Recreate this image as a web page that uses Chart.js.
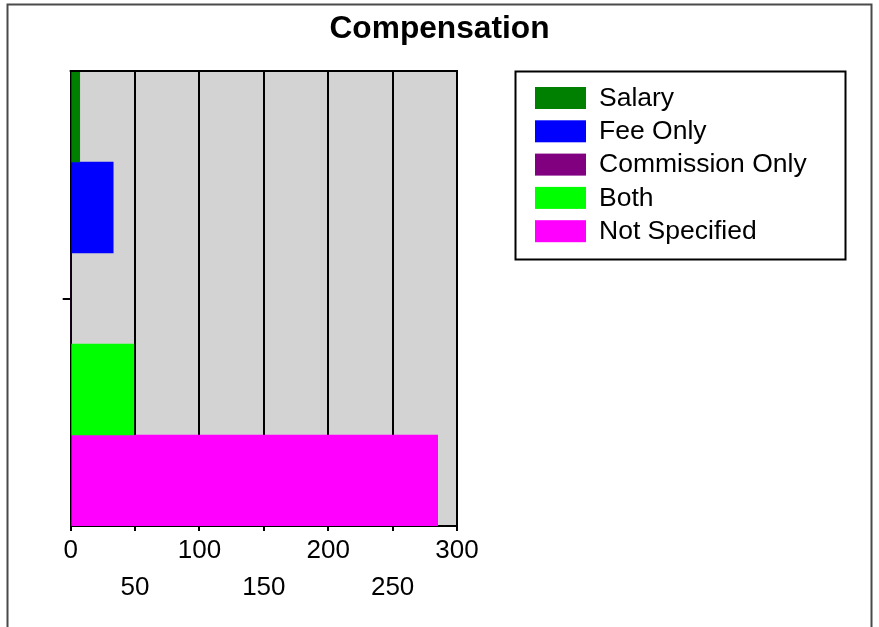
<!DOCTYPE html>
<html>
<head>
<meta charset="utf-8">
<script src="https://cdn.jsdelivr.net/npm/chart.js@4"></script>
<style>
html,body{margin:0;padding:0;background:#fff;}
#wrap{width:879px;height:627px;position:relative;}
</style>
</head>
<body>
<div id="wrap"><canvas id="c" width="879" height="627"></canvas></div>
<script>
const chartTitle = 'Compensation';
const categories = [''];
const seriesNames = ['Salary', 'Fee Only', 'Commission Only', 'Both', 'Not Specified'];
const seriesValues = [7, 33, 0, 49, 285];
const seriesColors = ['#008000', '#0000ff', '#800080', '#00ff00', '#ff00ff'];
const xMin = 0, xMax = 300, xStep = 50;

const FONT = "'Liberation Sans', Arial, sans-serif";

const decor = {
  id: 'decor',
  beforeDraw(chart) {
    const ctx = chart.ctx;
    const a = chart.chartArea;
    ctx.save();
    ctx.fillStyle = '#ffffff';
    ctx.fillRect(0, 0, chart.width, chart.height);
    // outer frame
    ctx.strokeStyle = '#4a4a4a';
    ctx.lineWidth = 2;
    ctx.beginPath();
    ctx.moveTo(7.5, 627);
    ctx.lineTo(7.5, 4.5);
    ctx.lineTo(871.5, 4.5);
    ctx.lineTo(871.5, 627);
    ctx.stroke();
    // plot background
    ctx.fillStyle = '#d3d3d3';
    ctx.fillRect(a.left, a.top, a.right - a.left, a.bottom - a.top);
    ctx.restore();
  },
  afterDraw(chart) {
    const ctx = chart.ctx;
    const a = chart.chartArea;
    ctx.save();
    // top border of plot
    ctx.strokeStyle = '#000';
    ctx.lineWidth = 2;
    ctx.beginPath();
    ctx.moveTo(a.left - 1, a.top);
    ctx.lineTo(a.right + 1, a.top);
    ctx.stroke();
    // title
    ctx.fillStyle = '#000';
    ctx.font = 'bold 31.7px ' + FONT;
    ctx.textAlign = 'center';
    ctx.textBaseline = 'middle';
    ctx.fillText(chartTitle, 439.5, 29);
    // legend
    const lx = 515.5, ly = 71.5, lw = 330, lh = 188;
    ctx.lineWidth = 2;
    ctx.strokeStyle = '#000';
    ctx.strokeRect(lx, ly, lw, lh);
    ctx.font = '26.5px ' + FONT;
    ctx.textAlign = 'left';
    ctx.textBaseline = 'middle';
    chart.data.datasets.forEach((ds, i) => {
      const sy = 87 + i * 33.3;
      ctx.fillStyle = ds.backgroundColor;
      ctx.fillRect(535, sy, 51, 22);
      ctx.fillStyle = '#000';
      ctx.fillText(ds.label, 599, sy + 11.5);
    });
    ctx.restore();
  }
};

new Chart(document.getElementById('c'), {
  type: 'bar',
  data: {
    labels: categories,
    datasets: seriesNames.map((n, i) => ({
      label: n,
      data: [seriesValues[i]],
      backgroundColor: seriesColors[i],
      borderWidth: 0,
      categoryPercentage: 1,
      barPercentage: 1
    }))
  },
  options: {
    indexAxis: 'y',
    responsive: false,
    animation: false,
    devicePixelRatio: 1,
    layout: { padding: { top: 71, right: 422, left: 0, bottom: 0 } },
    plugins: {
      legend: { display: false },
      title: { display: false },
      tooltip: { enabled: false }
    },
    scales: {
      x: {
        min: xMin, max: xMax,
        afterFit(s) { s.height = 101; },
        ticks: {
          stepSize: xStep,
          color: '#000',
          padding: 1,
          maxRotation: 0,
          autoSkip: false,
          font: { family: FONT, size: 26, lineHeight: 1.42 },
          callback(v, i) { return (i % 2 === 1) ? ['', String(v)] : String(v); }
        },
        grid: { color: '#000', lineWidth: 2, tickLength: 5 },
        border: { display: true, color: '#000', width: 2 }
      },
      y: {
        afterFit(s) { s.width = 70.7; },
        ticks: { display: false },
        grid: { offset: false, drawOnChartArea: false, color: '#000', lineWidth: 2, tickLength: 8 },
        border: { display: true, color: '#000', width: 2 }
      }
    }
  },
  plugins: [decor]
});
</script>
</body>
</html>
